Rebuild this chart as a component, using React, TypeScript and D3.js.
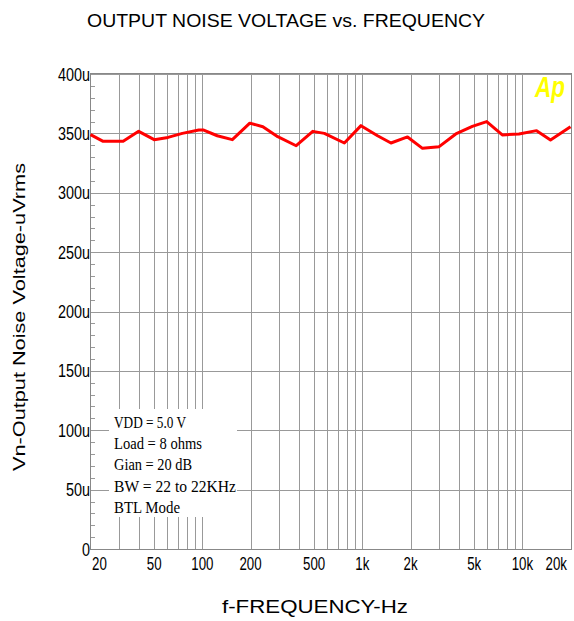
import React from "react";
import * as d3 from "d3";

const freqs = [20, 24, 32, 40, 50, 61, 75, 95, 102, 124, 154, 198, 239, 296, 386, 490, 579, 772, 981, 1245, 1510, 1916, 2377, 3020, 3838, 4870, 5986, 7494, 9523, 12277, 15000, 20000];
const noise = [349, 343.3, 343.3, 351.7, 344.7, 346.6, 350, 352.8, 352.8, 348, 344.7, 358.6, 355.6, 347.2, 339.6, 351.7, 350, 341.9, 356.5, 348, 341.9, 347, 337.4, 338.8, 349.5, 355.9, 359.9, 348.7, 349.5, 352.3, 344.4, 355.6];

const yTicks = [0, 50, 100, 150, 200, 250, 300, 350, 400];
const yTickLabels = ["0", "50u", "100u", "150u", "200u", "250u", "300u", "350u", "400u"];
const xTicks = [20, 50, 100, 200, 500, 1000, 2000, 5000, 10000, 20000];
const xTickLabels = ["20", "50", "100", "200", "500", "1k", "2k", "5k", "10k", "20k"];
const legendLines = ["VDD = 5.0 V", "Load = 8 ohms", "Gian = 20 dB", "BW = 22 to 22KHz", "BTL Mode"];
const legendWidths = [72, 88, 78, 122, 66];

const W = 574, H = 621;
const L = 90.5, R = 570.5, T = 74, B = 549;

export default function App() {
  const x = d3.scaleLog().domain([20, 20000]).range([L, R]);
  const y = d3.scaleLinear().domain([0, 400]).range([B, T]);

  const gridX: number[] = [];
  for (let dec = 10; dec <= 10000; dec *= 10) {
    for (let m = 1; m <= 9; m++) {
      const f = dec * m;
      if (f > 20 && f < 20000) gridX.push(f);
    }
  }
  const minorY = d3.range(0, 401, 10).filter((v) => v % 50 !== 0);
  const line = d3.line<number>().x((_, i) => x(freqs[i])).y((d) => y(d)).curve(d3.curveLinear);
  const px = (v: number) => Math.round(v) + 0.5;

  return (
    <svg width={W} height={H} style={{ position: "absolute", left: 0, top: 0, background: "#fff" }}>
      <rect x={0} y={0} width={W} height={H} fill="#fff" />
      <text x={286} y={27} textAnchor="middle" fontFamily="Liberation Sans, Arial, sans-serif" fontSize={19} textLength={398} lengthAdjust="spacingAndGlyphs" fill="#000">
        OUTPUT NOISE VOLTAGE vs. FREQUENCY
      </text>
      {/* grid */}
      <g stroke="#999" strokeWidth={1} shapeRendering="crispEdges">
        {gridX.map((f) => (
          <line key={"gx" + f} x1={px(x(f))} x2={px(x(f))} y1={T} y2={B} />
        ))}
        {yTicks.map((v) => (
          <line key={"gy" + v} x1={L} x2={R} y1={px(y(v))} y2={px(y(v))} />
        ))}
      </g>
      {/* legend box */}
      <rect x={109} y={409} width={128} height={108} fill="#fff" />
      <g stroke="#999" strokeWidth={1} shapeRendering="crispEdges">
        {minorY.map((v) => (
          <line key={"my" + v} x1={L} x2={L + 4} y1={px(y(v))} y2={px(y(v))} />
        ))}
        <rect x={px(L) - 1} y={px(T) - 1} width={Math.round(R) - Math.round(L) + 1} height={Math.round(B) - Math.round(T) + 1} fill="none" stroke="#888" />
      </g>
      {legendLines.map((t, i) => (
        <text key={t} x={114} y={428 + i * 21.2} fontFamily="Liberation Serif, Times New Roman, serif" fontSize={16} textLength={legendWidths[i]} lengthAdjust="spacingAndGlyphs" fill="#000">
          {t}
        </text>
      ))}
      {/* data */}
      <path d={line(noise) || ""} fill="none" stroke="#ff0000" strokeWidth={3} strokeLinejoin="round" />
      {/* Ap logo */}
      <text x={535} y={97} fontFamily="Liberation Sans, Arial, sans-serif" fontWeight="bold" fontStyle="italic" fontSize={29} textLength={30} lengthAdjust="spacingAndGlyphs" fill="#ffff00">
        Ap
      </text>
      {/* y tick labels */}
      {yTicks.map((v, i) => (
        <text key={"yl" + v} transform={`translate(90,${y(v) + 6.5}) scale(0.8,1)`} textAnchor="end" fontFamily="Liberation Sans, Arial, sans-serif" fontSize={18} fill="#000">
          {yTickLabels[i]}
        </text>
      ))}
      {/* x tick labels */}
      {xTicks.map((f, i) => {
        const anchor = i === 0 ? "start" : i === xTicks.length - 1 ? "end" : "middle";
        const xx = i === 0 ? 92 : i === xTicks.length - 1 ? 567 : x(f);
        return (
          <text key={"xl" + f} transform={`translate(${xx},570) scale(0.7,1)`} textAnchor={anchor} fontFamily="Liberation Sans, Arial, sans-serif" fontSize={19} fill="#000">
            {xTickLabels[i]}
          </text>
        );
      })}
      <text x={315} y={613} textAnchor="middle" fontFamily="Liberation Sans, Arial, sans-serif" fontSize={19} textLength={186} lengthAdjust="spacingAndGlyphs" fill="#000">
        f-FREQUENCY-Hz
      </text>
      <text transform="translate(25,317) rotate(-90)" textAnchor="middle" fontFamily="Liberation Sans, Arial, sans-serif" fontSize={17} textLength={308} lengthAdjust="spacingAndGlyphs" fill="#000">
        Vn-Output Noise Voltage-uVrms
      </text>
    </svg>
  );
}
